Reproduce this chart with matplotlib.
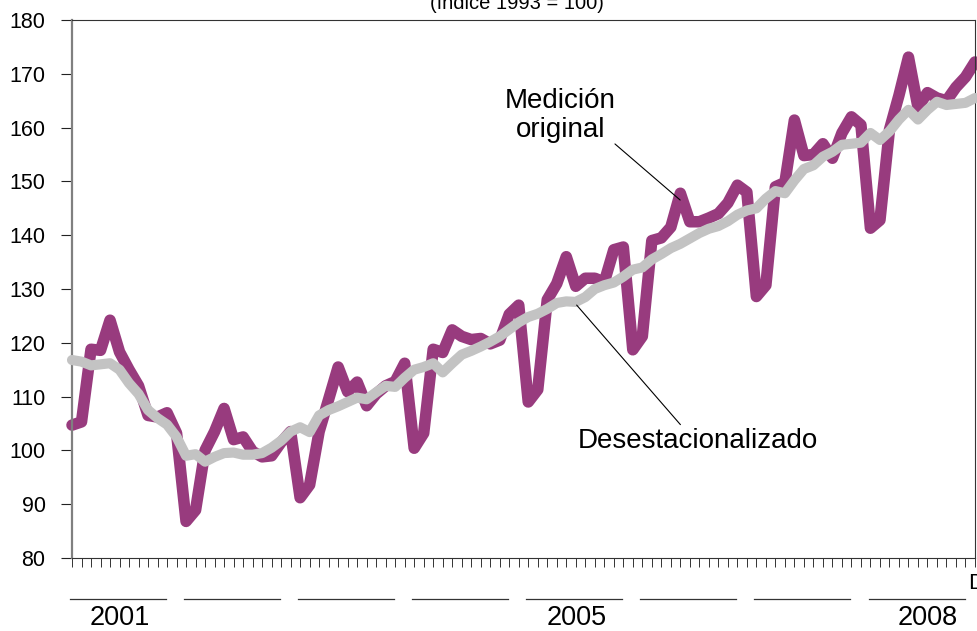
import numpy as np
import matplotlib
matplotlib.use("Agg")
import matplotlib.pyplot as plt

# indice mensual 2001-2008 (1993 = 100)
original = [104.7, 105.3, 118.8, 118.6, 124.2, 118.3, 115.0, 112.0, 106.5, 106.2, 107.0, 103.2,
            86.8, 88.9, 100.0, 103.5, 107.8, 102.0, 102.5, 99.8, 98.8, 99.0, 101.5, 103.5,
            91.2, 93.6, 103.5, 109.5, 115.5, 110.9, 112.7, 108.3, 110.5, 112.0, 112.8, 116.2,
            100.4, 103.2, 118.8, 118.2, 122.4, 121.2, 120.6, 120.8, 119.8, 120.5, 125.3, 127.0,
            109.0, 111.3, 128.0, 131.0, 136.0, 130.5, 132.0, 132.0, 131.3, 137.3, 137.8, 118.7,
            121.2, 139.0, 139.5, 141.5, 147.8, 142.5, 142.5, 143.2, 144.0, 146.0, 149.3, 148.0,
            128.6, 130.7, 149.0, 149.8, 161.4, 154.8, 155.0, 157.0, 154.3, 159.0, 162.0, 160.5,
            141.3, 142.8, 159.6, 166.0, 173.1, 163.8, 166.5, 165.5, 165.0, 167.5, 169.4, 172.2]

desest = [116.8, 116.5, 115.8, 116.0, 116.2, 115.0, 112.5, 110.5, 107.5, 106.0, 104.8, 102.5,
          99.0, 99.3, 97.9, 98.8, 99.5, 99.6, 99.2, 99.2, 99.5, 100.5, 101.8, 103.5,
          104.3, 103.4, 106.5, 107.5, 108.2, 109.0, 109.8, 109.5, 110.8, 112.0, 111.8, 113.5,
          115.0, 115.5, 116.2, 114.5, 116.2, 117.8, 118.5, 119.3, 120.2, 121.2, 122.5, 123.8,
          124.8, 125.4, 126.3, 127.4, 127.7, 127.6, 128.5, 130.0, 130.7, 131.2, 132.3, 133.6,
          134.0, 135.5, 136.5, 137.6, 138.4, 139.4, 140.4, 141.2, 141.7, 142.6, 143.8, 144.6,
          145.0, 146.8, 148.2, 147.8, 150.2, 152.3, 153.0, 154.6, 155.5, 156.8, 157.0, 157.2,
          159.0, 157.7, 159.3, 161.5, 163.3, 161.5, 163.3, 164.8, 164.2, 164.4, 164.6, 165.5]

years = [2001, 2002, 2003, 2004, 2005, 2006, 2007, 2008]
shown_years = [2001, 2005, 2008]
yticks = list(range(80, 181, 10))

PURPLE = "#983b7e"
GRAY = "#c3c3c3"
NARROW = ["Liberation Sans Narrow", "Liberation Sans", "DejaVu Sans"]
REG = ["Liberation Sans", "DejaVu Sans"]

months = np.arange(len(original))

fig = plt.figure(figsize=(9.77, 6.31), dpi=100)
ax = fig.add_axes([72 / 977, 1 - 558 / 631, 903 / 977, 538 / 631])

ax.plot(months, original, color=PURPLE, lw=8.3, solid_capstyle="round",
        solid_joinstyle="round", clip_on=False, zorder=2)
ax.plot(months, desest, color=GRAY, lw=7.3, solid_capstyle="round",
        solid_joinstyle="round", clip_on=False, zorder=3)

ax.set_xlim(0, 95)
ax.set_ylim(80, 180)

# ejes
for side in ["top", "right", "bottom"]:
    ax.spines[side].set_color("#333333")
    ax.spines[side].set_linewidth(0.8)
ax.spines["left"].set_color("#808080")
ax.spines["left"].set_linewidth(1.6)

ax.set_yticks(yticks)
ax.set_yticklabels([str(v) for v in yticks], family=NARROW, fontsize=15.5)
ax.tick_params(axis="y", direction="out", length=8, width=0.8, pad=11, color="#222222")
ax.set_xticks(months)
ax.set_xticklabels([])
ax.tick_params(axis="x", direction="out", length=6.5, width=0.7, color="#333333")

# barras y etiquetas de anio bajo el eje
xt = ax.get_xaxis_transform()
for k, yr in enumerate(years):
    x0 = 12 * k - 0.2
    x1 = 12 * k + 9.9
    ax.plot([x0, x1], [-0.0762, -0.0762], transform=xt, color="#333333", lw=0.9, clip_on=False)
    if yr in shown_years:
        xc = (x0 + x1) / 2 + (1.2 if yr == 2008 else 0.2)
        ax.text(xc, -0.1245, str(yr), transform=xt, ha="center", va="baseline",
                family=NARROW, fontsize=19.5)

ax.text(94.3, -0.028, "Dic", transform=xt, ha="left", va="top", family=NARROW, fontsize=16)

fig.text(517 / 977, 1 - 9 / 631, "(índice 1993 = 100)", ha="center", va="baseline",
         family=NARROW, fontsize=14.5)

# rotulos de las series
ax.text(51.4, 157.2, "Medición\noriginal", ha="center", va="bottom", family=REG,
        fontsize=20, linespacing=1.12)
ax.annotate("", xy=(64.2, 146.2), xytext=(56.9, 157.3),
            arrowprops=dict(arrowstyle="-", color="black", lw=0.8))

ax.text(65.8, 100.5, "Desestacionalizado", ha="center", va="baseline", family=REG, fontsize=20)
ax.annotate("", xy=(64.2, 104.4), xytext=(52.9, 127.4),
            arrowprops=dict(arrowstyle="-", color="black", lw=0.8))

fig.savefig("out.png", dpi=100)
